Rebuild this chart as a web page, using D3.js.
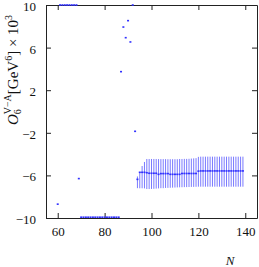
<!DOCTYPE html>
<html>
<head>
<meta charset="utf-8">
<script src="https://cdn.jsdelivr.net/npm/d3@7"></script>
<style>
  body { margin: 0; background: #fff; }
  text { font-family: "Liberation Serif", "DejaVu Serif", serif; fill: #111; }
</style>
</head>
<body>
<div id="chart"></div>
<script>
// scattered central values, N = 60..93 (values beyond +-10 sit on the frame)
var scatterN = [60, 61, 62, 63, 64, 65, 66, 67, 68, 69,
  70, 71, 72, 73, 74, 75, 76, 77, 78, 79, 80, 81, 82, 83, 84, 85, 86,
  87, 88, 89, 90, 91, 92, 93];
var scatterV = [-8.7, 10, 10, 10, 10, 10, 10, 10, 10, -6.3,
  -10, -10, -10, -10, -10, -10, -10, -10, -10, -10, -10, -10, -10, -10, -10, -10, -10,
  3.74, 7.93, 6.93, 8.53, 6.53, 10, -1.86];

// stable region with error bars, N = 94..139
var barN = [94, 95, 96, 97, 98, 99, 100, 101, 102, 103, 104, 105, 106, 107, 108, 109,
  110, 111, 112, 113, 114, 115, 116, 117, 118, 119, 120, 121, 122, 123, 124, 125,
  126, 127, 128, 129, 130, 131, 132, 133, 134, 135, 136, 137, 138, 139];
var barV = [-6.37, -5.71, -5.71, -5.71, -5.75, -5.8, -5.8, -5.8, -5.8, -5.9, -5.83, -5.83, -5.83, -5.83, -5.9, -5.9,
  -5.9, -5.9, -5.9, -5.82, -5.82, -5.82, -5.82, -5.82, -5.82, -5.82, -5.6, -5.58, -5.58, -5.58, -5.58, -5.58,
  -5.58, -5.58, -5.58, -5.58, -5.58, -5.58, -5.58, -5.58, -5.58, -5.58, -5.58, -5.58, -5.58, -5.58];
var barHi = [-6.1, -5.68, -5.12, -4.74, -4.46, -4.46, -4.46, -4.46, -4.46, -4.47, -4.47, -4.47, -4.47, -4.48, -4.48, -4.48,
  -4.48, -4.48, -4.46, -4.46, -4.45, -4.45, -4.44, -4.42, -4.4, -4.38, -4.26, -4.24, -4.24, -4.24, -4.24, -4.24,
  -4.24, -4.24, -4.24, -4.24, -4.24, -4.24, -4.24, -4.24, -4.24, -4.24, -4.24, -4.24, -4.24, -4.24];
var barLo = [-7.2, -7.21, -7.21, -7.22, -7.28, -7.28, -7.27, -7.26, -7.24, -7.22, -7.2, -7.2, -7.18, -7.17, -7.16, -7.15,
  -7.14, -7.13, -7.12, -7.11, -7.1, -7.1, -7.09, -7.08, -7.08, -7.07, -7.06, -7.06, -7.06, -7.06, -7.06, -7.06,
  -7.06, -7.06, -7.06, -7.06, -7.06, -7.06, -7.06, -7.06, -7.06, -7.06, -7.06, -7.06, -7.06, -7.06];

var xTicks = [60, 80, 100, 120, 140];
var yTicks = [-10, -6, -2, 2, 6, 10];

var svgWidth = 259;
var svgHeight = 267;
var margin = { top: 5, right: 2, bottom: 49, left: 46 };
var width = svgWidth - margin.left - margin.right;
var height = svgHeight - margin.top - margin.bottom;

var svg = d3.select("#chart")
  .append("svg")
  .attr("width", svgWidth)
  .attr("height", svgHeight);

var chartGroup = svg.append("g")
  .attr("transform", `translate(${margin.left}, ${margin.top})`);

var x = d3.scaleLinear().domain([55, 145]).range([0, width]);
var y = d3.scaleLinear().domain([-10, 10]).range([height, 0]);

// error bars
var bars = barN.map((n, i) => ({ n: n, v: barV[i], hi: barHi[i], lo: barLo[i] }));
chartGroup.selectAll(".err")
  .data(bars)
  .enter()
  .append("line")
  .attr("class", "err")
  .attr("x1", d => x(d.n))
  .attr("x2", d => x(d.n))
  .attr("y1", d => y(d.hi))
  .attr("y2", d => y(d.lo))
  .attr("stroke", "#7a7aff")
  .attr("stroke-width", 1);

// axes, ticks pointing inward, mirrored on top and right
var tickLen = 5;
chartGroup.append("g")
  .attr("transform", `translate(0, ${height})`)
  .call(d3.axisBottom(x).tickValues(xTicks).tickSizeInner(-tickLen).tickSizeOuter(0).tickPadding(9))
  .call(g => g.selectAll("text").attr("font-size", 13).attr("font-family", "Liberation Serif"));
chartGroup.append("g")
  .call(d3.axisTop(x).tickValues(xTicks).tickSizeInner(-tickLen).tickSizeOuter(0).tickFormat(""));
chartGroup.append("g")
  .call(d3.axisLeft(y).tickValues(yTicks).tickSizeInner(-tickLen).tickSizeOuter(0).tickPadding(10))
  .call(g => g.selectAll("text").attr("font-size", 13).attr("dy", "0.42em").attr("font-family", "Liberation Serif"));
chartGroup.append("g")
  .attr("transform", `translate(${width}, 0)`)
  .call(d3.axisRight(y).tickValues(yTicks).tickSizeInner(-tickLen).tickSizeOuter(0).tickFormat(""));

chartGroup.selectAll(".domain").attr("stroke", "#222");
chartGroup.selectAll(".tick line").attr("stroke", "#222");

// central values, drawn over the frame so clipped ones stay visible
var pts = scatterN.map((n, i) => ({ n: n, v: scatterV[i] }))
  .concat(bars.map(d => ({ n: d.n, v: d.v })));
chartGroup.selectAll(".pt")
  .data(pts)
  .enter()
  .append("rect")
  .attr("class", "pt")
  .attr("x", d => x(d.n) - 1)
  .attr("y", d => d.v <= -10 ? y(d.v) - 1.6 : y(d.v) - 0.8)
  .attr("width", 2)
  .attr("height", 1.6)
  .attr("fill", "#3030ff");

// axis labels
svg.append("text")
  .attr("x", 230)
  .attr("y", 265)
  .attr("text-anchor", "middle")
  .attr("font-size", 13)
  .attr("font-style", "italic")
  .text("N");

var yLabel = svg.append("text")
  .attr("transform", "translate(18, 70) rotate(-90)")
  .attr("text-anchor", "middle")
  .attr("font-size", 15);
yLabel.append("tspan").attr("font-style", "italic").text("O");
yLabel.append("tspan").attr("font-size", 10).attr("dy", 3).text("6");
yLabel.append("tspan").attr("font-size", 10).attr("dx", -5).attr("dy", -10).text("V\u2212A");
yLabel.append("tspan").attr("dy", 7).text("[GeV");
yLabel.append("tspan").attr("font-size", 10).attr("dy", -6).text("6");
yLabel.append("tspan").attr("dy", 6).text("] \u00d7 10");
yLabel.append("tspan").attr("font-size", 10).attr("dy", -6).text("3");
</script>
</body>
</html>
